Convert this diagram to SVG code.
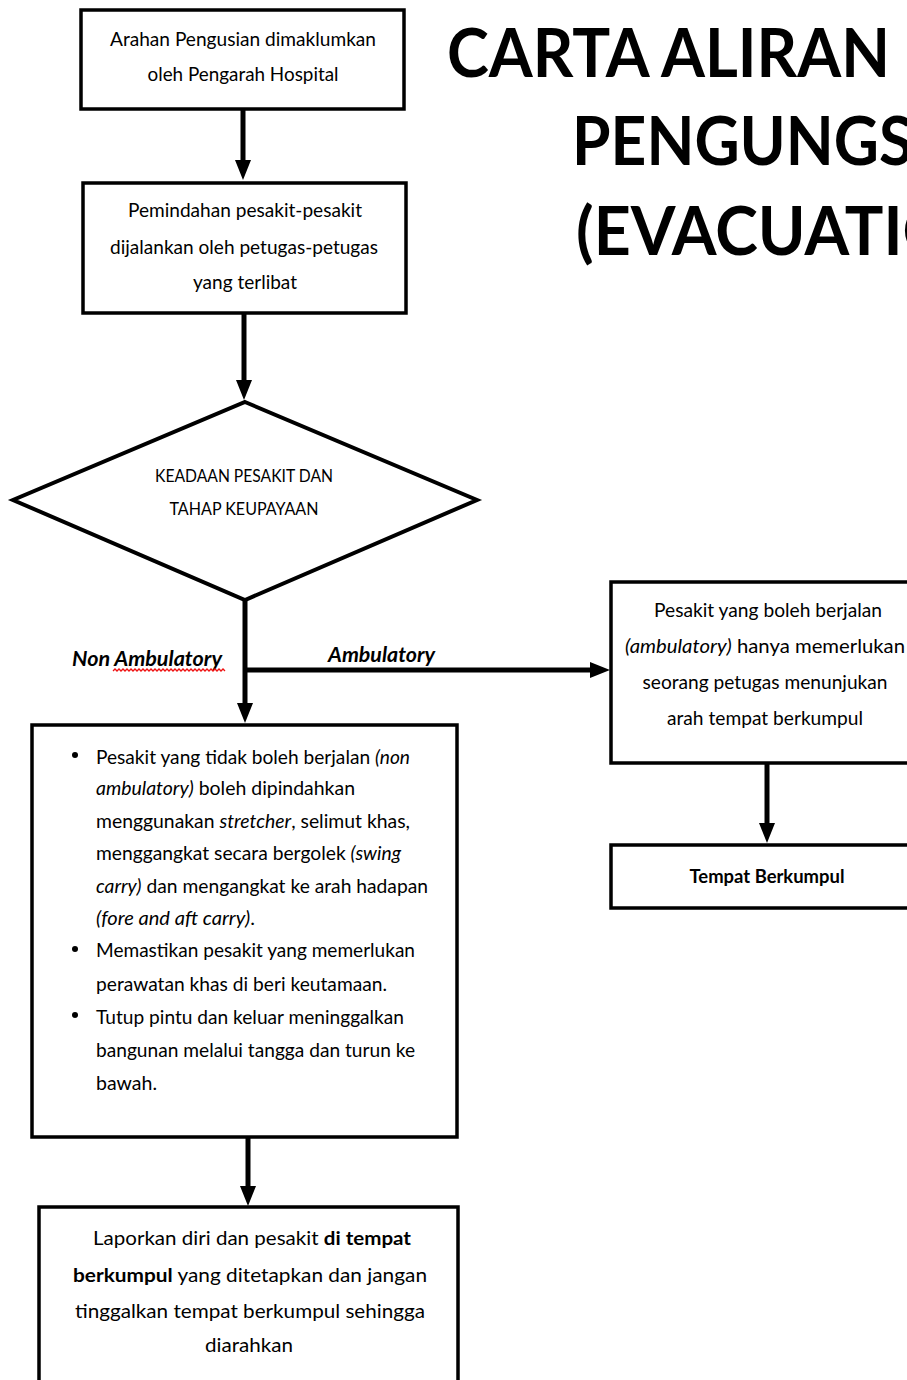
<svg xmlns="http://www.w3.org/2000/svg" width="907" height="1380" viewBox="0 0 907 1380">
<style>
.box{fill:#fff;stroke:#000;stroke-width:3.5}
.con{stroke:#000;stroke-width:5;fill:none}
.t{font-family:Lato,"Liberation Sans",sans-serif;font-size:19px;fill:#000}
.c{text-anchor:middle}
.i{font-style:italic}
.b{font-weight:bold}
.title{font-family:Lato,"Open Sans","Liberation Sans",sans-serif;font-weight:bold;font-size:67px;fill:#000}
.lbl{font-family:Lato,"Liberation Sans",sans-serif;font-size:21px;font-weight:bold;font-style:italic;fill:#000}
</style>
<defs>
<marker id="ah" viewBox="0 0 20 16" refX="8" refY="8" markerWidth="20" markerHeight="16" markerUnits="userSpaceOnUse" orient="auto">
<path d="M0,0 L20,8 L0,16 z" fill="#000"/>
</marker>
</defs>
<rect width="907" height="1380" fill="#fff"/>

<g id="title">
<text class="title" x="447" y="77" textLength="443" lengthAdjust="spacingAndGlyphs">CARTA ALIRAN</text>
<text class="title" x="572" y="165" textLength="451" lengthAdjust="spacingAndGlyphs">PENGUNGSIAN</text>
<text class="title" x="576" y="255" textLength="446" lengthAdjust="spacingAndGlyphs">(EVACUATION)</text>
</g>

<g id="connectors">
<line class="con" x1="243" y1="109" x2="243" y2="168" marker-end="url(#ah)"/>
<line class="con" x1="244" y1="313" x2="244" y2="388" marker-end="url(#ah)"/>
<line class="con" x1="245" y1="600" x2="245" y2="711" marker-end="url(#ah)"/>
<line class="con" x1="245" y1="670" x2="598" y2="670" marker-end="url(#ah)"/>
<line class="con" x1="767" y1="763" x2="767" y2="831" marker-end="url(#ah)"/>
<line class="con" x1="248" y1="1137" x2="248" y2="1194" marker-end="url(#ah)"/>
<text class="lbl" x="72" y="666" textLength="150" lengthAdjust="spacingAndGlyphs">Non Ambulatory</text>
<path d="M113,671 l2,-2 l2,2 l2,-2 l2,2 l2,-2 l2,2 l2,-2 l2,2 l2,-2 l2,2 l2,-2 l2,2 l2,-2 l2,2 l2,-2 l2,2 l2,-2 l2,2 l2,-2 l2,2 l2,-2 l2,2 l2,-2 l2,2 l2,-2 l2,2 l2,-2 l2,2 l2,-2 l2,2 l2,-2 l2,2 l2,-2 l2,2 l2,-2 l2,2 l2,-2 l2,2 l2,-2 l2,2 l2,-2 l2,2 l2,-2 l2,2 l2,-2 l2,2 l2,-2 l2,2 l2,-2 l2,2 l2,-2 l2,2 l2,-2 l2,2 l2,-2 l2,2" fill="none" stroke="#e11" stroke-width="1.3"/>
<text class="lbl" x="328" y="662" textLength="107" lengthAdjust="spacingAndGlyphs">Ambulatory</text>
</g>

<g id="node-arahan">
<rect class="box" x="81" y="10" width="323" height="99"/>
<text class="t c" x="243" y="46" textLength="266" lengthAdjust="spacingAndGlyphs">Arahan Pengusian dimaklumkan</text>
<text class="t c" x="243" y="81" textLength="191" lengthAdjust="spacingAndGlyphs">oleh Pengarah Hospital</text>
</g>

<g id="node-pemindahan">
<rect class="box" x="83" y="183" width="323" height="130"/>
<text class="t c" x="245" y="217" textLength="234" lengthAdjust="spacingAndGlyphs">Pemindahan pesakit-pesakit</text>
<text class="t c" x="244" y="254" textLength="268" lengthAdjust="spacingAndGlyphs">dijalankan oleh petugas-petugas</text>
<text class="t c" x="245" y="289" textLength="104" lengthAdjust="spacingAndGlyphs">yang terlibat</text>
</g>

<g id="node-keadaan">
<polygon points="245,402 477,500 245,600 13,500" fill="#fff" stroke="#000" stroke-width="4"/>
<text class="t c" x="244" y="482" style="font-size:17px" textLength="178" lengthAdjust="spacingAndGlyphs">KEADAAN PESAKIT DAN</text>
<text class="t c" x="244" y="515" style="font-size:17px" textLength="149" lengthAdjust="spacingAndGlyphs">TAHAP KEUPAYAAN</text>
</g>

<g id="node-ambulatory">
<rect class="box" x="611" y="582" width="320" height="181"/>
<text class="t c" x="768" y="617" textLength="228" lengthAdjust="spacingAndGlyphs">Pesakit  yang boleh berjalan</text>
<text class="t c" x="765" y="653" textLength="280" lengthAdjust="spacingAndGlyphs"><tspan class="i">(ambulatory)</tspan> hanya memerlukan</text>
<text class="t c" x="765" y="689" textLength="245" lengthAdjust="spacingAndGlyphs">seorang petugas menunjukan</text>
<text class="t c" x="765" y="725" textLength="196" lengthAdjust="spacingAndGlyphs">arah tempat berkumpul</text>
</g>

<g id="node-tempat">
<rect class="box" x="611" y="845" width="320" height="63"/>
<text class="t c b" x="767" y="883" textLength="155" lengthAdjust="spacingAndGlyphs">Tempat Berkumpul</text>
</g>

<g id="node-nonambulatory">
<rect class="box" x="32" y="725" width="425" height="412"/>
<circle cx="75" cy="755" r="3"/>
<circle cx="75" cy="949" r="3"/>
<circle cx="75" cy="1015" r="3"/>
<text class="t" x="96" y="764" textLength="314" lengthAdjust="spacingAndGlyphs">Pesakit yang tidak boleh berjalan <tspan class="i">(non</tspan></text>
<text class="t" x="96" y="795" textLength="259" lengthAdjust="spacingAndGlyphs"><tspan class="i">ambulatory)</tspan> boleh dipindahkan</text>
<text class="t" x="96" y="828" textLength="314" lengthAdjust="spacingAndGlyphs">menggunakan <tspan class="i">stretcher</tspan>, selimut khas,</text>
<text class="t" x="96" y="860" textLength="305" lengthAdjust="spacingAndGlyphs">menggangkat secara bergolek <tspan class="i">(swing</tspan></text>
<text class="t" x="96" y="893" textLength="332" lengthAdjust="spacingAndGlyphs"><tspan class="i">carry)</tspan> dan mengangkat ke arah hadapan</text>
<text class="t" x="96" y="925" textLength="159" lengthAdjust="spacingAndGlyphs"><tspan class="i">(fore and aft carry)</tspan>.</text>
<text class="t" x="96" y="957" textLength="319" lengthAdjust="spacingAndGlyphs">Memastikan pesakit yang memerlukan</text>
<text class="t" x="96" y="991" textLength="291" lengthAdjust="spacingAndGlyphs">perawatan khas di beri keutamaan.</text>
<text class="t" x="96" y="1024" textLength="308" lengthAdjust="spacingAndGlyphs">Tutup pintu dan keluar meninggalkan</text>
<text class="t" x="96" y="1057" textLength="319" lengthAdjust="spacingAndGlyphs">bangunan melalui tangga dan turun ke</text>
<text class="t" x="96" y="1090" textLength="61" lengthAdjust="spacingAndGlyphs">bawah.</text>
</g>

<g id="node-laporkan">
<rect class="box" x="39" y="1207" width="419" height="200"/>
<text class="t" x="93" y="1245" textLength="318" lengthAdjust="spacingAndGlyphs">Laporkan diri dan pesakit <tspan class="b">di tempat</tspan></text>
<text class="t" x="73" y="1282" textLength="354" lengthAdjust="spacingAndGlyphs"><tspan class="b">berkumpul</tspan> yang ditetapkan dan jangan</text>
<text class="t" x="75" y="1318" textLength="350" lengthAdjust="spacingAndGlyphs">tinggalkan tempat berkumpul sehingga</text>
<text class="t" x="205" y="1352" textLength="88" lengthAdjust="spacingAndGlyphs">diarahkan</text>
</g>
</svg>
